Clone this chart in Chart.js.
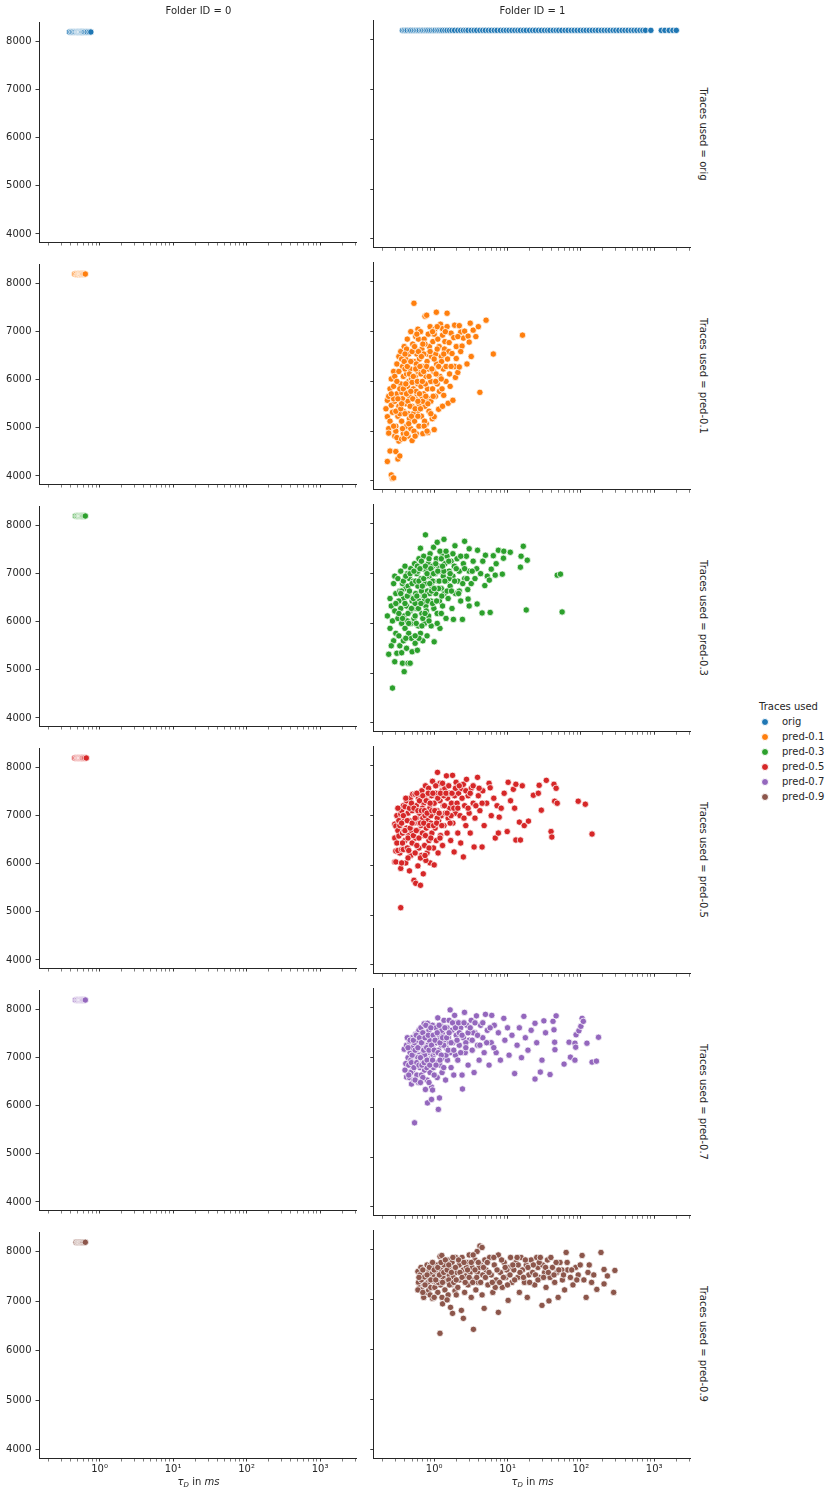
<!DOCTYPE html>
<html>
<head>
<meta charset="utf-8">
<script src="https://cdn.jsdelivr.net/npm/chart.js@4.4.0/dist/chart.umd.min.js"></script>
<style>
  body { margin: 0; background: #fff; }
  #page { position: relative; width: 832px; height: 1504px; overflow: hidden;
          font-family: "DejaVu Sans", sans-serif; color: #262626; }
  canvas { position: absolute; }
  .colTitle { position: absolute; top: 5px; font-size: 10px; transform: translateX(-50%); white-space: nowrap; }
  .rowLabel { position: absolute; font-size: 10px; white-space: nowrap; transform: translate(-50%, -50%) rotate(90deg); }
  .xLabel { position: absolute; top: 1476px; font-size: 10px; transform: translateX(-50%); white-space: nowrap; }
  .xLabel sub { font-size: 7px; vertical-align: -2px; }
  #legend { position: absolute; left: 759px; top: 699px; font-size: 10px; }
  #legend .item { position: relative; height: 15px; line-height: 15px; padding-left: 23px; }
  #legend .dot { position: absolute; left: 2px; top: 4px; width: 6px; height: 6px; border-radius: 50%;
                 border: 0.75px solid #fff; }
  #legend .title { height: 15px; line-height: 15px; }
</style>
</head>
<body>
<div id="page"></div>
<script>
/* -------------------------------
   DATA
--------------------------------*/
const folderIds = [0, 1];
const traceNames = ["orig", "pred-0.1", "pred-0.3", "pred-0.5", "pred-0.7", "pred-0.9"];
const traceColors = ["#1f77b4", "#ff7f0e", "#2ca02c", "#d62728", "#9467bd", "#8c564b"];
const yTickValues = [4000, 5000, 6000, 7000, 8000];
const xMajorTicks = [1, 10, 100, 1000];
const xMajorLabels = ["10⁰", "10¹", "10²", "10³"];
const xRange = [0.15, 3100];
const yRange = [3832, 8400];

// Folder ID = 0  (tau_D, y)
const f0Orig = [[0.39,8192],[0.41,8192],[0.43,8192],[0.45,8192],[0.47,8192],[0.49,8192],[0.5,8192],[0.51,8192],
  [0.52,8192],[0.53,8192],[0.54,8192],[0.55,8192],[0.55,8192],[0.56,8192],[0.56,8192],[0.57,8192],[0.58,8192],
  [0.6,8192],[0.62,8192],[0.65,8192],[0.68,8192],[0.72,8192],[0.76,8192]];
const f0Pred01 = [[0.46,8192],[0.48,8192],[0.5,8180],[0.51,8192],[0.52,8200],[0.53,8192],[0.54,8185],[0.55,8192],
  [0.55,8200],[0.56,8192],[0.56,8180],[0.57,8192],[0.57,8200],[0.58,8192],[0.59,8192],[0.6,8192],[0.62,8192],[0.64,8192]];
const f0Pred03 = [[0.47,8192],[0.49,8192],[0.5,8192],[0.52,8192],[0.53,8192],[0.54,8192],[0.55,8192],[0.55,8192],
  [0.56,8192],[0.56,8192],[0.57,8192],[0.57,8192],[0.58,8192],[0.59,8192],[0.6,8192],[0.62,8192],[0.64,8192]];
const f0Pred05 = [[0.46,8192],[0.48,8192],[0.5,8192],[0.51,8192],[0.52,8192],[0.53,8192],[0.54,8192],[0.55,8192],
  [0.55,8192],[0.56,8192],[0.56,8192],[0.57,8192],[0.58,8192],[0.58,8192],[0.59,8192],[0.61,8192],[0.63,8192],[0.66,8192]];
const f0Pred07 = [[0.47,8192],[0.49,8192],[0.5,8192],[0.52,8192],[0.53,8192],[0.54,8192],[0.55,8192],[0.55,8192],
  [0.56,8192],[0.57,8192],[0.57,8192],[0.58,8192],[0.59,8192],[0.6,8192],[0.62,8192],[0.64,8192]];
const f0Pred09 = [[0.48,8192],[0.5,8192],[0.51,8192],[0.52,8192],[0.53,8192],[0.54,8192],[0.55,8192],[0.55,8192],
  [0.56,8192],[0.56,8192],[0.57,8192],[0.58,8192],[0.59,8192],[0.6,8192],[0.62,8192],[0.64,8192]];

// Folder ID = 1
const f1Orig = [[0.37,8192],[0.39,8192],[0.41,8192],[0.43,8192],[0.46,8192],[0.48,8192],[0.51,8192],[0.54,8192],
  [0.57,8192],[0.6,8192],[0.63,8192],[0.67,8192],[0.7,8192],[0.74,8192],[0.78,8192],[0.82,8192],[0.87,8192],
  [0.92,8192],[0.98,8192],[1.03,8192],[1.1,8192],[1.16,8192],[1.23,8192],[1.3,8192],[1.4,8192],[1.5,8192],
  [1.62,8192],[1.75,8192],[1.9,8192],[2.1,8192],[2.3,8192],[2.5,8192],[2.7,8192],[2.9,8192],[3.2,8192],
  [3.5,8192],[3.8,8192],[4.2,8192],[4.6,8192],[5.0,8192],[5.5,8192],[6.0,8192],[6.6,8192],[7.2,8192],
  [8.0,8192],[8.8,8192],[9.6,8192],[10.5,8192],[11.5,8192],[12.6,8192],[13.8,8192],[15,8192],[16.5,8192],
  [18,8192],[20,8192],[22,8192],[24,8192],[26.5,8192],[29,8192],[32,8192],[35,8192],[38,8192],[42,8192],
  [46,8192],[50,8192],[55,8192],[61,8192],[67,8192],[74,8192],[81,8192],[89,8192],[98,8192],[108,8192],
  [118,8192],[130,8192],[143,8192],[157,8192],[172,8192],[190,8192],[208,8192],[228,8192],[250,8192],
  [275,8192],[300,8192],[330,8192],[365,8192],[400,8192],[440,8192],[485,8192],[530,8192],[580,8192],
  [640,8192],[700,8192],[760,8192],[900,8192],[1250,8192],[1400,8192],[1600,8192],[1800,8192],[2000,8192]];

const f1Pred01 = [[0.22,5450],[0.23,5290],[0.23,5620],[0.24,5050],[0.24,4960],[0.25,5850],[0.26,5520],[0.26,6050],
  [0.25,4600],[0.23,4390],[0.26,4120],[0.27,4050],[0.28,4060],[0.25,5200],[0.24,5700],
  [0.27,5380],[0.28,5900],[0.28,6200],[0.29,5600],[0.29,4900],[0.3,5100],[0.3,4590],[0.31,6350],[0.31,5750],
  [0.32,5300],[0.32,4440],[0.33,6500],[0.33,5500],[0.33,4800],[0.29,6100],[0.3,5000],[0.31,4870],[0.28,5650],
  [0.34,4500],[0.35,6600],[0.35,5950],[0.36,5200],[0.36,4840],[0.37,6300],[0.37,5650],[0.38,6100],[0.38,5400],
  [0.39,6700],[0.39,5000],[0.4,5800],[0.41,6450],[0.41,5550],[0.42,6150],[0.42,5100],[0.43,6850],[0.43,5900],
  [0.44,4900],[0.44,5350],[0.45,6550],[0.45,6000],[0.46,5700],[0.46,5250],[0.38,4950],[0.4,6250],[0.36,5780],
  [0.42,6650],[0.34,5350],[0.39,4850],
  [0.47,6250],[0.48,7000],[0.48,5050],[0.5,4810],[0.5,5500],[0.51,6750],[0.52,5850],[0.53,7570],[0.53,6400],
  [0.54,5200],[0.55,6100],[0.56,6900],[0.56,5650],[0.57,4950],[0.58,6550],[0.59,5400],[0.6,6200],[0.6,5950],
  [0.61,6850],[0.62,5100],[0.63,6450],[0.49,6050],[0.52,5350],[0.55,6650],[0.58,5750],[0.62,5550],[0.5,5980],
  [0.57,6350],[0.6,7050],
  [0.65,7000],[0.66,5900],[0.67,5300],[0.68,6650],[0.7,6300],[0.7,4950],[0.72,5750],[0.73,6850],[0.75,7310],
  [0.75,5500],[0.77,6100],[0.78,5150],[0.79,7330],[0.8,6550],[0.81,5850],[0.82,4970],[0.83,6950],[0.84,6250],
  [0.85,5400],[0.86,6700],[0.68,5650],[0.72,6550],[0.76,5950],[0.8,6400],[0.84,5650],[0.66,6150],[0.74,5200],
  [0.88,7100],[0.9,5600],[0.9,6000],[0.92,6500],[0.94,5250],[0.96,6800],[0.98,6200],[1.0,5290],[1.0,5030],
  [1.02,7050],[1.04,5700],[1.05,6550],[1.07,7390],[1.08,6350],[1.1,5950],[1.12,6850],[1.15,5440],[1.17,6700],
  [1.2,6100],[0.95,5850],[1.0,6950],[1.06,6150],[1.18,5800],
  [1.22,7150],[1.25,6500],[1.28,5850],[1.3,7060],[1.3,6930],[1.33,6250],[1.35,5720],[1.38,6650],[1.4,6800],
  [1.45,6000],[1.5,7370],[1.5,7100],[1.52,6450],[1.55,5560],[1.6,6780],[1.62,6150],[1.65,5900],[1.7,6970],
  [1.26,6400],[1.42,7000],[1.58,6600],
  [1.75,6560],[1.8,5620],[1.85,6880],[1.9,7130],[1.9,6300],[1.95,6080],[2.0,6700],[2.0,6460],[2.1,6180],
  [2.2,7120],[2.2,6290],[2.3,6990],[2.4,6710],[2.5,6870],[2.6,7010],[2.1,6900],[2.3,6600],
  [2.9,6910],[3.0,6790],[3.1,7170],[3.4,7030],[3.2,6500],[3.7,6900],[4.2,5780],[5.1,7230],[6.4,6550],
  [16,6930],[2.8,6350],[4.0,7100],
  [0.3,5400],[0.31,6000],[0.32,5650],[0.33,6200],[0.34,5850],[0.35,5450],[0.36,6450],[0.37,5050],[0.38,5850],
  [0.39,6400],[0.4,5350],[0.4,6550],[0.41,5950],[0.42,5750],[0.43,6300],[0.44,5600],[0.45,5150],[0.46,6150],
  [0.47,5500],[0.48,6400],[0.49,5300],[0.5,6600],[0.51,5650],[0.52,6100],[0.53,5000],[0.54,6700],[0.55,5450],
  [0.56,6250],[0.57,5800],[0.58,6950],[0.59,6000],[0.6,5300],[0.61,6600],[0.63,5750],[0.64,6300],[0.65,5450],
  [0.67,6500],[0.69,6000],[0.7,5600],[0.72,6200],[0.73,5100],[0.75,6750],[0.77,5700],[0.79,6300],[0.82,5550],
  [0.85,6100],[0.88,6600],[0.9,5350],[0.93,6250],[0.97,5700],[1.0,6450],[1.05,6000],[1.1,6650],[1.15,6300],
  [1.25,6050],[1.35,6550],[1.45,6300],[1.1,7100],[0.95,7000],[0.7,6750],[0.48,5800],[0.36,5550],[0.42,4950],
  [0.55,4900],[0.28,5100],[0.26,5750],[0.6,5600],[0.8,5000],[1.3,5500],[1.7,6300]];

const f1Pred03 = [[0.23,6150],[0.24,5380],[0.25,6500],[0.25,5900],[0.26,6350],[0.27,4700],[0.27,6050],[0.28,5650],
  [0.28,6800],[0.29,5230],[0.29,6250],[0.3,5800],[0.3,6600],[0.26,5550],[0.29,6950],
  [0.31,5400],[0.31,6400],[0.32,6900],[0.32,6100],[0.33,5750],[0.34,6650],[0.34,5550],[0.35,7050],[0.35,6300],
  [0.36,5410],[0.36,6000],[0.37,5200],[0.37,6800],[0.38,6500],[0.38,5650],[0.39,5030],[0.39,6150],[0.4,7150],
  [0.4,5900],[0.41,6700],[0.42,6350],[0.42,5500],[0.43,7000],[0.43,6050],[0.44,5200],[0.45,6550],[0.45,5800],
  [0.46,6900],[0.47,5200],[0.47,6250],[0.48,7100],[0.49,5700],[0.5,5430],[0.5,6450],[0.33,6450],[0.36,6650],
  [0.41,5700],[0.44,6750],[0.48,6000],
  [0.52,6850],[0.53,6100],[0.54,7200],[0.55,5600],[0.56,6600],[0.57,6300],[0.58,7000],[0.59,5460],[0.6,6750],
  [0.61,5950],[0.62,7300],[0.63,6450],[0.65,7510],[0.65,5800],[0.66,6900],[0.68,6200],[0.69,7100],[0.7,5650],
  [0.71,6550],[0.72,7350],[0.74,6000],[0.75,6800],[0.76,7780],[0.77,6350],[0.78,7050],[0.8,5750],[0.81,6650],
  [0.83,7200],[0.84,6150],[0.86,6950],[0.88,7400],[0.9,6450],[0.91,5950],[0.93,6750],[0.95,7150],[0.98,7530],
  [0.99,6300],[1.0,5630],[0.57,6000],[0.67,6650],[0.73,6450],[0.79,6950],[0.87,6600],[0.96,6850],[0.6,7050],
  [0.55,6400],
  [1.03,7000],[1.05,6600],[1.07,7300],[1.1,7630],[1.1,6200],[1.13,6850],[1.15,7150],[1.18,6450],[1.2,5900],
  [1.22,7050],[1.25,6700],[1.28,7400],[1.3,6350],[1.33,6950],[1.36,7690],[1.38,6600],[1.4,7200],[1.45,6100],
  [1.48,6850],[1.5,7350],[1.55,6500],[1.6,7050],[1.65,6750],[1.7,7250],[1.75,6300],[1.8,6950],[1.83,6080],
  [1.88,7150],[1.92,7560],[1.95,6600],[1.15,6700],[1.35,7050],[1.6,6900],[1.25,7300],
  [2.05,7300],[2.1,6850],[2.2,7050],[2.3,6450],[2.43,6080],[2.5,7200],[2.6,7650],[2.6,6900],[2.75,7350],
  [2.87,6680],[2.9,6490],[3.0,7050],[3.2,6800],[3.4,7250],[3.6,6900],[3.85,6390],[3.9,7470],[3.8,7100],
  [2.2,6650],[3.0,6350],
  [4.3,7000],[4.5,6210],[4.9,6760],[5.0,7370],[5.3,6950],[5.65,6870],[5.8,6220],[6.0,7090],[6.4,7360],
  [6.8,6970],[7.5,7470],[8.5,6990],[8.8,7310],[8.9,7450],[10.9,7430],[15,7130],[15.3,7350],[16.4,7550],
  [18,6270],[18.6,7270],[47.6,6970],[52.7,6990],[55.5,6230],[4.6,7250],[7.0,7200],
  [0.35,6600],[0.37,6100],[0.38,6850],[0.4,6400],[0.41,6950],[0.43,6550],[0.44,6200],[0.46,6650],[0.47,7000],
  [0.49,6300],[0.5,6800],[0.52,6500],[0.53,7050],[0.55,6150],[0.56,6850],[0.58,6550],[0.59,7150],[0.61,6300],
  [0.62,6850],[0.64,7100],[0.66,6400],[0.67,7250],[0.69,6750],[0.7,6100],[0.72,6900],[0.74,6550],[0.76,7150],
  [0.78,6250],[0.8,7000],[0.82,6450],[0.85,7300],[0.87,6800],[0.9,7100],[0.92,6650],[0.95,6400],[0.98,7000],
  [1.0,6700],[1.05,7200],[1.08,6450],[1.12,7050],[1.17,6850],[1.2,7450],[1.27,6550],[1.3,7150],[1.4,6850],
  [1.45,7450],[1.5,6650],[1.58,7250],[1.65,7000],[1.72,6650],[1.8,7400],[1.9,6850],[2.0,7100],[2.15,6600],
  [2.3,7350],[2.45,6800],[2.6,7100],[2.8,6900],[3.0,7500],[3.3,7050],[0.45,6000],[0.62,5700],[0.75,6200],
  [0.33,6200],[0.3,6400],[0.55,5750],[0.68,5950],[0.85,6050],[1.1,6000],[1.25,6200]];

const f1Pred05 = [[0.29,6550],[0.29,6070],[0.29,6830],[0.3,6290],[0.3,6790],[0.3,6070],[0.31,7000],[0.31,6450],
  [0.32,6700],[0.33,6590],[0.33,6900],[0.34,6250],[0.35,7030],[0.35,5940],[0.35,5150],[0.34,6800],[0.32,6300],
  [0.36,6320],[0.36,7100],[0.37,6650],[0.38,6320],[0.38,7200],[0.39,6900],[0.4,7180],[0.4,6500],[0.41,6050],
  [0.42,6750],[0.42,7300],[0.43,6350],[0.44,7050],[0.45,6600],[0.46,5890],[0.46,6900],[0.47,7350],[0.48,6200],
  [0.49,6700],[0.5,7100],[0.51,7430],[0.5,6450],[0.44,6150],[0.39,6700],
  [0.53,5700],[0.53,6850],[0.55,7430],[0.56,5640],[0.56,6550],[0.57,7200],[0.58,6950],[0.6,5990],[0.6,6700],
  [0.61,7350],[0.62,6350],[0.63,7050],[0.65,7420],[0.65,5600],[0.66,6800],[0.67,6200],[0.68,7500],[0.7,6950],
  [0.71,5830],[0.71,6600],[0.72,7250],[0.74,6400],[0.75,7000],[0.76,7600],[0.78,6750],[0.8,6250],[0.8,7300],
  [0.82,6900],[0.84,7550],[0.85,6500],[0.87,7150],[0.88,6050],[0.9,6850],[0.92,7400],[0.93,6650],[0.95,7690],
  [0.96,7050],[0.98,6350],[1.0,6010],[1.0,7250],[0.58,6400],[0.69,7150],[0.77,6100],[0.9,7000],[0.62,6850],
  [0.74,7350],
  [1.03,6750],[1.05,7450],[1.07,6500],[1.1,7100],[1.11,7870],[1.13,6250],[1.15,6900],[1.16,7630],[1.2,7650],
  [1.2,7300],[1.22,6600],[1.25,7000],[1.28,7500],[1.3,6400],[1.33,7200],[1.36,6800],[1.4,7550],[1.42,7050],
  [1.47,7800],[1.5,6650],[1.52,7350],[1.55,6950],[1.6,7450],[1.63,7150],[1.68,6500],[1.72,7250],[1.78,7810],
  [1.8,6850],[1.87,6270],[1.9,7400],[1.95,7050],[1.99,7670],[1.1,6950],[1.35,7400],[1.7,7000],
  [2.05,7250],[2.1,6650],[2.15,7450],[2.25,7000],[2.35,7550],[2.5,6170],[2.5,7630],[2.6,7200],[2.7,6800],
  [2.76,7730],[2.9,7400],[3.0,7050],[3.2,7550],[3.4,7250],[3.5,6370],[3.6,6950],[3.9,7770],[4.0,7400],
  [4.2,7100],[4.5,6370],[4.6,7500],[4.8,6800],[2.3,6450],[3.1,6650],
  [5.2,7250],[5.6,7650],[5.8,7560],[6.0,7000],[6.5,7350],[6.8,6550],[7.2,7200],[7.7,6970],[8.2,7150],
  [9.0,7450],[9.9,6680],[10.2,7670],[11,7300],[12,7530],[13,7630],[13,6510],[14.5,6870],[15,6510],[15.9,7600],
  [16.9,6800],[19.3,6890],[12.5,7150],[7.5,6650],
  [22.5,7410],[26.3,7450],[27,7610],[28.9,7110],[33.8,7710],[39.2,6680],[40.2,6570],[43,7630],[43.9,7290],
  [46,7550],[47.6,7250],[92,7290],[115,7230],[142,6630],
  [0.36,6850],[0.37,6450],[0.38,7000],[0.4,6700],[0.41,7350],[0.43,6900],[0.44,6550],[0.46,7150],[0.47,6750],
  [0.49,7250],[0.5,6850],[0.52,6600],[0.53,7150],[0.55,6950],[0.57,6700],[0.58,7450],[0.6,7100],[0.62,6550],
  [0.63,7300],[0.65,6850],[0.67,7100],[0.69,6650],[0.7,7400],[0.72,6850],[0.74,7100],[0.76,6600],[0.78,7300],
  [0.8,7050],[0.83,7450],[0.85,6800],[0.88,7250],[0.9,6550],[0.93,7100],[0.96,7450],[0.98,6800],[1.02,7100],
  [1.05,7600],[1.08,6850],[1.12,7350],[1.17,7050],[1.22,7450],[1.27,6800],[1.3,7650],[1.38,7200],[1.45,7450],
  [1.5,7050],[1.58,7600],[1.65,6850],[1.75,7450],[1.85,7150],[1.95,7550],[2.1,7150],[2.2,7600],[2.4,7350],
  [2.55,6950],[2.7,7500],[2.9,7150],[3.1,7450],[3.4,7600],[3.7,7200],[4.1,7550],[4.5,7250],[0.45,6300],
  [0.55,6250],[0.65,6150],[0.75,6200],[0.85,6350],[1.2,6550],[0.32,7150],[0.36,6050]];

const f1Pred07 = [[0.39,7170],[0.4,6750],[0.41,6880],[0.42,6610],[0.42,7250],[0.44,7000],[0.45,6850],[0.46,7320],
  [0.46,6600],[0.47,7100],[0.48,6950],[0.49,6470],[0.5,7400],[0.5,7200],[0.51,6750],[0.52,7050],[0.53,6550],
  [0.54,5690],[0.54,7300],[0.55,6900],[0.43,7400],[0.48,6700],
  [0.56,7470],[0.57,7150],[0.58,6650],[0.59,6950],[0.6,7350],[0.61,6500],[0.62,7550],[0.63,7050],[0.64,6800],
  [0.65,7250],[0.66,7600],[0.67,6650],[0.68,7400],[0.7,6900],[0.71,7100],[0.72,7500],[0.73,7680],[0.74,6750],
  [0.75,7200],[0.76,6360],[0.77,7000],[0.78,7400],[0.8,6550],[0.81,6090],[0.81,7690],[0.82,7250],[0.84,6900],
  [0.85,7550],[0.87,7100],[0.88,6700],[0.9,7400],[0.92,6410],[0.92,6160],[0.93,7000],[0.95,7650],[0.96,7250],
  [0.98,6800],[1.0,7450],[0.6,7000],[0.69,7300],[0.79,6800],[0.86,7350],[0.97,7050],[0.64,7450],[0.74,7050],
  [1.02,7100],[1.04,6900],[1.06,7600],[1.08,7300],[1.1,6600],[1.12,7800],[1.14,5960],[1.15,7150],[1.18,6190],
  [1.18,7450],[1.2,6850],[1.22,7650],[1.25,7250],[1.28,6700],[1.3,7500],[1.33,7000],[1.36,7750],[1.4,7350],
  [1.43,6550],[1.46,7200],[1.5,7600],[1.52,6950],[1.56,7400],[1.6,7750],[1.65,7960],[1.65,7100],[1.7,6800],
  [1.75,7550],[1.8,7300],[1.85,6650],[1.9,7850],[1.95,7050],[2.0,7450],[1.27,7550],[1.45,7050],[1.62,7300],
  [1.15,7350],[1.35,7250],
  [2.05,7700],[2.1,6950],[2.2,7250],[2.3,7600],[2.4,6650],[2.43,6370],[2.5,7400],[2.59,7910],[2.65,7100],
  [2.8,7650],[2.9,6850],[3.0,7350],[3.2,7750],[3.3,7150],[3.5,6700],[3.6,7500],[3.77,7840],[3.9,7250],
  [4.1,6950],[4.3,7650],[4.6,7400],[4.8,7100],[5.0,7870],[2.2,7500],[2.7,7300],[3.4,7500],
  [5.3,7550],[5.6,6850],[6.1,7850],[6.0,7300],[6.6,7650],[7.0,7100],[7.5,7500],[8.0,6950],[8.9,7790],
  [9.2,7350],[10,7600],[10.5,7050],[11.5,7450],[12.5,6680],[13.5,7250],[14.5,7600],[15.5,7000],[16.7,7830],
  [17.5,7400],[19,7150],[6.5,7200],
  [21,7550],[23.7,7690],[23.7,6570],[25,7300],[28,6710],[29.5,6950],[31.3,7740],[33,7500],[38,6660],
  [41.7,7730],[43.9,7310],[44.3,7160],[46,7840],[43,7560],[59,6870],[69,7310],[72,7010],[83,7290],[83,6950],
  [85,7210],[86,7460],[94,7540],[100,7630],[104,7790],[108,7730],[121,7290],[142,6910],[163,6930],[174,7410],
  [0.44,7200],[0.45,6650],[0.47,7350],[0.49,6900],[0.5,7050],[0.52,7350],[0.53,6800],[0.55,7150],[0.57,7450],
  [0.58,6900],[0.6,7200],[0.62,6850],[0.63,7400],[0.65,7000],[0.67,7300],[0.68,6850],[0.7,7500],[0.72,7150],
  [0.73,6900],[0.75,7400],[0.77,7650],[0.79,7200],[0.8,6950],[0.83,7450],[0.85,7150],[0.87,6850],[0.9,7600],
  [0.92,7250],[0.95,6950],[0.97,7450],[1.0,7150],[1.03,7350],[1.06,6850],[1.1,7500],[1.13,7100],[1.17,7650],
  [1.2,7300],[1.25,7050],[1.3,7400],[1.35,6800],[1.4,7600],[1.48,7400],[1.55,7150],[1.6,7500],[1.7,7300],
  [1.78,7700],[1.85,7150],[1.95,7600],[2.05,7350],[2.15,7700],[2.3,7100],[2.4,7450],[2.55,7700],[2.7,7200],
  [2.9,7500],[3.1,7600],[3.3,7350],[3.6,7700],[3.9,7450],[4.2,7250],[4.6,7700],[5.2,7300],[5.8,7600],
  [0.7,6600],[0.85,6500],[1.0,6650],[1.2,6950],[0.55,6550],[0.65,6500],[0.95,6350]];

const f1Pred09 = [[0.6,7570],[0.61,7350],[0.63,7240],[0.64,7500],[0.66,7650],[0.68,7210],[0.7,7420],[0.72,7050],
  [0.73,7300],[0.75,7610],[0.77,7500],[0.78,7150],[0.8,7700],[0.82,7350],[0.84,7190],[0.85,7580],[0.87,7420],
  [0.89,7700],[0.9,7250],[0.92,7520],[0.95,7030],[0.96,7380],[0.98,7650],[0.67,7400],[0.74,7460],[0.88,7100],
  [1.0,7460],[1.02,7250],[1.05,7580],[1.08,7350],[1.1,7700],[1.12,7150],[1.15,7480],[1.2,7870],[1.2,6330],
  [1.22,7300],[1.25,7600],[1.27,7890],[1.28,7050],[1.3,6920],[1.32,7450],[1.36,7700],[1.4,7200],[1.44,7550],
  [1.48,7380],[1.52,7800],[1.55,7100],[1.6,7500],[1.65,7650],[1.67,6850],[1.7,7300],[1.75,7750],[1.78,6730],
  [1.82,7450],[1.88,7600],[1.92,7180],[1.96,7850],[1.14,7350],[1.38,7560],[1.58,7400],
  [2.05,7550],[2.1,7250],[2.2,7700],[2.3,7400],[2.35,6790],[2.4,7850],[2.5,6630],[2.5,7600],[2.6,7150],
  [2.7,7480],[2.8,7750],[2.9,7300],[3.0,7900],[3.1,7550],[3.2,7050],[3.3,7650],[3.43,6410],[3.5,7400],
  [3.6,7800],[3.7,7200],[3.85,7970],[3.9,7550],[4.0,7350],[4.2,8080],[4.3,7700],[4.5,8050],[4.5,7100],
  [4.6,7500],[4.8,6830],[4.9,7800],[2.2,7400],[2.75,7650],[3.4,7900],[4.1,7650],
  [5.1,7600],[5.4,7300],[5.7,7850],[6.0,7500],[6.3,7150],[6.6,7700],[7.0,7400],[7.5,6750],[7.5,7900],
  [8.0,7550],[8.5,7250],[9.0,7750],[9.5,7450],[10.2,6990],[10.5,7650],[11,7850],[11.5,7350],[12.2,7600],
  [13,7750],[13.8,7450],[14.5,7150],[15.3,7850],[16,7600],[17,7350],[18,7700],[18.6,7050],[19.5,7500],
  [6.8,7250],[9.8,7600],[14,7700],
  [21,7800],[22,7550],[23.5,7300],[25,7850],[26,7650],[27.5,7450],[29.5,6890],[30,7700],[32,7550],
  [33.5,7250],[35,7800],[36.7,6980],[38,7450],[41,7650],[44,7350],[47,7550],[49,7050],[52,7750],[56,7400],
  [60,7200],[63,7950],[66,7600],[72,7450],[78,7300],[85,7650],[92,7500],[104,7890],[110,7400],[118,7050],
  [125,7550],[140,7350],[165,7210],[188,7950],[207,7610],[207,7320],[230,7480],[280,7150],[291,7590],
  [27,7750],[55,7600],
  [0.62,7450],[0.7,7600],[0.75,7300],[0.8,7500],[0.86,7650],[0.9,7400],[0.95,7750],[1.0,7600],[1.05,7400],
  [1.12,7650],[1.18,7500],[1.24,7750],[1.3,7350],[1.35,7550],[1.42,7800],[1.5,7600],[1.58,7700],[1.62,7300],
  [1.72,7550],[1.8,7850],[1.85,7350],[1.95,7650],[2.0,7400],[2.15,7800],[2.25,7550],[2.4,7450],[2.55,7750],
  [2.65,7350],[2.85,7600],[3.0,7450],[3.2,7750],[3.35,7350],[3.6,7600],[3.8,7450],[4.0,7750],[4.3,7350],
  [4.7,7650],[5.0,7450],[5.3,7750],[5.6,7550],[6.2,7350],[6.5,7850],[7.2,7600],[7.8,7350],[8.3,7800],
  [8.8,7450],[9.3,7650],[10,7300],[10.8,7500],[11.8,7700],[12.5,7400],[13.5,7850],[14.8,7550],[16.5,7450],
  [17.5,7800],[19,7650],[20,7350],[22.5,7700],[24,7500],[26,7400],[28,7850],[31,7450],[33,7650],[36,7550],
  [39,7850],[43,7500],[46,7750],[50,7600],[58,7500],[65,7750],[75,7600],[88,7400],[98,7700],[130,7700],
  [150,7500],[0.6,7200],[0.7,7150],[1.0,7050],[1.5,7000],[2.0,7100]];

const panelData = [
  [f0Orig, f1Orig],
  [f0Pred01, f1Pred01],
  [f0Pred03, f1Pred03],
  [f0Pred05, f1Pred05],
  [f0Pred07, f1Pred07],
  [f0Pred09, f1Pred09]
];

/* -------------------------------
   LAYOUT
--------------------------------*/
const page = document.getElementById("page");
const plotLeft = [39, 373];
const plotW = 319, plotH = 228;
const rowTop = 20, rowStep = 242;
const padTop = 8, padRight = 3;
const ink = "#262626";
const tickFont = { family: "DejaVu Sans", size: 10 };

// minor log ticks 2..9 x 10^k inside the range
const xAllTicks = [];
for (let k = -1; k <= 3; k++) {
  for (let m = 1; m <= 9; m++) {
    const v = m * Math.pow(10, k);
    if (v >= xRange[0] && v <= xRange[1]) xAllTicks.push(+v.toPrecision(3));
  }
}
const isMajor = v => xMajorTicks.includes(v);

function makePanel(row, col) {
  const isLeft = col === 0;
  const isBottom = row === traceNames.length - 1;
  const yW = isLeft ? 40 : 4;
  const xH = isBottom ? 22 : 4;

  const cv = document.createElement("canvas");
  cv.width = yW + plotW + padRight;
  cv.height = padTop + plotH + xH;
  cv.style.left = (plotLeft[col] - yW) + "px";
  cv.style.top = (rowTop + rowStep * row - padTop) + "px";
  page.appendChild(cv);

  new Chart(cv, {
    type: "scatter",
    data: {
      datasets: [{
        label: traceNames[row],
        data: panelData[row][col],
        backgroundColor: traceColors[row],
        borderColor: "#ffffff",
        borderWidth: 0.75,
        pointRadius: 3.2
      }]
    },
    options: {
      responsive: false,
      animation: false,
      events: [],
      layout: { padding: { top: padTop, right: padRight, left: 0, bottom: 0 } },
      plugins: { legend: { display: false }, tooltip: { enabled: false } },
      scales: {
        x: {
          type: "logarithmic",
          min: xRange[0],
          max: xRange[1],
          afterBuildTicks: s => { s.ticks = xAllTicks.map(v => ({ value: v })); },
          afterFit: s => { s.height = xH; },
          grid: {
            display: true, drawOnChartArea: false, drawTicks: true, tickLength: 3.5,
            tickColor: ink,
            tickWidth: ctx => (ctx.tick && isMajor(ctx.tick.value)) ? 0.9 : 0.6
          },
          border: { display: true, color: ink, width: 1 },
          ticks: {
            display: isBottom,
            autoSkip: false, maxRotation: 0, padding: 2,
            color: ink, font: tickFont,
            callback: v => {
              const i = xMajorTicks.indexOf(v);
              return i >= 0 ? xMajorLabels[i] : "";
            }
          }
        },
        y: {
          min: yRange[0],
          max: yRange[1],
          afterBuildTicks: s => { s.ticks = yTickValues.map(v => ({ value: v })); },
          afterFit: s => { s.width = yW; },
          grid: { display: true, drawOnChartArea: false, drawTicks: true, tickLength: 3.5, tickColor: ink, tickWidth: 0.9 },
          border: { display: true, color: ink, width: 1 },
          ticks: { display: isLeft, padding: 4, color: ink, font: tickFont, callback: v => String(v) }
        }
      }
    }
  });
}

function addText(cls, html, left, top) {
  const d = document.createElement("div");
  d.className = cls;
  d.innerHTML = html;
  d.style.left = left + "px";
  if (top != null) d.style.top = top + "px";
  page.appendChild(d);
}

/* -------------------------------
   START
--------------------------------*/
traceNames.forEach((t, r) => {
  folderIds.forEach((f, c) => makePanel(r, c));
  addText("rowLabel", "Traces used = " + t, 703, rowTop + rowStep * r + plotH / 2);
});

folderIds.forEach((f, c) => {
  addText("colTitle", "Folder ID = " + f, plotLeft[c] + plotW / 2);
  addText("xLabel", "<i>τ</i><sub><i>D</i></sub> in <i>ms</i>", plotLeft[c] + plotW / 2);
});

const legend = document.createElement("div");
legend.id = "legend";
legend.innerHTML = '<div class="title">Traces used</div>' + traceNames.map((t, i) =>
  '<div class="item"><span class="dot" style="background:' + traceColors[i] + '"></span>' + t + '</div>').join("");
page.appendChild(legend);
</script>
</body>
</html>
